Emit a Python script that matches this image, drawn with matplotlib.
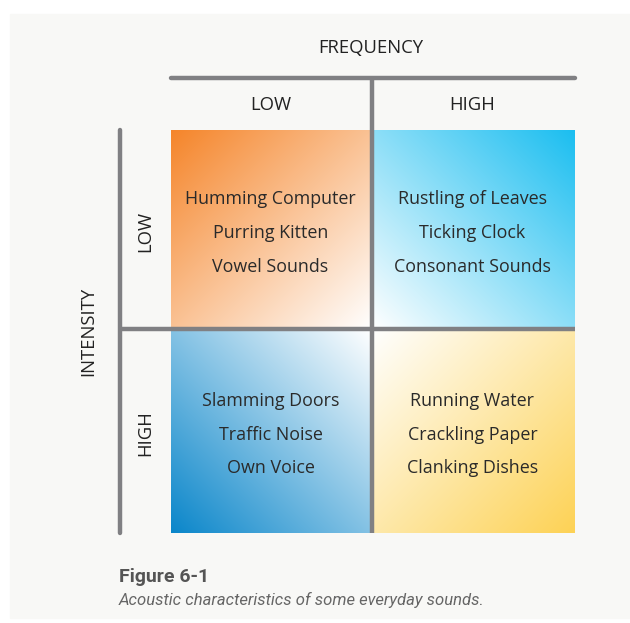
import numpy as np
import matplotlib
matplotlib.use("Agg")
import matplotlib.pyplot as plt
from matplotlib.colors import to_rgb

# ---- data ----
x_axis_title = "FREQUENCY"
y_axis_title = "INTENSITY"
freq_levels = ["LOW", "HIGH"]
intensity_levels = ["LOW", "HIGH"]
cell_sounds = {
    ("LOW", "LOW"): ["Humming Computer", "Purring Kitten", "Vowel Sounds"],
    ("LOW", "HIGH"): ["Rustling of Leaves", "Ticking Clock", "Consonant Sounds"],
    ("HIGH", "LOW"): ["Slamming Doors", "Traffic Noise", "Own Voice"],
    ("HIGH", "HIGH"): ["Running Water", "Crackling Paper", "Clanking Dishes"],
}
cell_colors = {
    ("LOW", "LOW"): "#F5852A",
    ("LOW", "HIGH"): "#1BBEF0",
    ("HIGH", "LOW"): "#0A86CA",
    ("HIGH", "HIGH"): "#FDD255",
}
fig_title = "Figure 6-1"
fig_caption = "Acoustic characteristics of some everyday sounds."

W, H = 630, 623
fig = plt.figure(figsize=(W / 100, H / 100), dpi=100)
fig.patch.set_facecolor("white")
ax = fig.add_axes([0, 0, 1, 1])
ax.set_xlim(0, W)
ax.set_ylim(H, 0)
ax.axis("off")

# panel background
ax.add_patch(plt.Rectangle((10, 14), W - 10, 604, color="#F8F8F6", zorder=0))

# grid geometry
x0, xm, x1 = 171, 372, 575
y0, ym, y1 = 130, 329, 533
line_col = "#808083"
lw = 3.2

def gradient(extent, color, corner):
    n = 200
    u = np.linspace(0, 1, n)
    U, V = np.meshgrid(u, u)  # U: left->right, V: top->bottom
    if corner == "tl":
        t = 1 - (U + V) / 2
    elif corner == "tr":
        t = (U + (1 - V)) / 2
    elif corner == "bl":
        t = ((1 - U) + V) / 2
    else:
        t = (U + V) / 2
    c = np.array(to_rgb(color))
    img = 1 - t[..., None] * (1 - c[None, None, :])
    l, r, top, bot = extent
    ax.imshow(img, extent=(l, r, bot, top), zorder=1, interpolation="bilinear", aspect="auto")

corners = {("LOW", "LOW"): "tl", ("LOW", "HIGH"): "tr",
           ("HIGH", "LOW"): "bl", ("HIGH", "HIGH"): "br"}
xs = {"LOW": (x0, xm), "HIGH": (xm, x1)}
ys = {"LOW": (y0, ym), "HIGH": (ym, y1)}

for (inten, freq), sounds in cell_sounds.items():
    l, r = xs[freq]
    t, b = ys[inten]
    gradient((l, r, t, b), cell_colors[(inten, freq)], corners[(inten, freq)])
    cx = (l + r) / 2 - 1
    cy = (t + b) / 2 - 30
    for i, s in enumerate(sounds):
        ax.text(cx, cy + i * 33.5, s, ha="center", va="center", fontsize=12.9,
                family="Open Sans", color="#2a2a2a", zorder=3)

# lines
ax.plot([x0, x1], [78, 78], color=line_col, lw=lw, solid_capstyle="round", zorder=4)
ax.plot([xm, xm], [78, y1], color=line_col, lw=lw, solid_capstyle="butt", zorder=4)
ax.plot([120, x1], [ym, ym], color=line_col, lw=lw, solid_capstyle="butt", zorder=4)
ax.plot([120, 120], [y0, y1], color=line_col, lw=lw, solid_capstyle="round", zorder=4)

# axis titles and level labels
lab_fs = 13.3
ax.text((x0 + x1) / 2 - 2, 48, x_axis_title, ha="center", va="center", fontsize=lab_fs,
        family="Open Sans", color="#222222")
for lev in freq_levels:
    l, r = xs[lev]
    ax.text((l + r) / 2 - 1, 105, lev, ha="center", va="center", fontsize=lab_fs,
            family="Open Sans", color="#222222")
ax.text(88, (y0 + y1) / 2, y_axis_title, ha="center", va="center", fontsize=lab_fs,
        rotation=90, family="Open Sans", color="#222222")
for lev in intensity_levels:
    t, b = ys[lev]
    ax.text(145, (t + b) / 2 + 2, lev, ha="center", va="center", fontsize=lab_fs,
            rotation=90, family="Open Sans", color="#222222")

# caption
ax.text(119, 577, fig_title, ha="left", va="center", fontsize=14, fontweight="bold",
        family="Roboto", color="#555555")
ax.text(119, 600, fig_caption, ha="left", va="center", fontsize=12, style="italic",
        family="Roboto", color="#666666")

fig.savefig("out.png", dpi=100, facecolor=fig.get_facecolor())
